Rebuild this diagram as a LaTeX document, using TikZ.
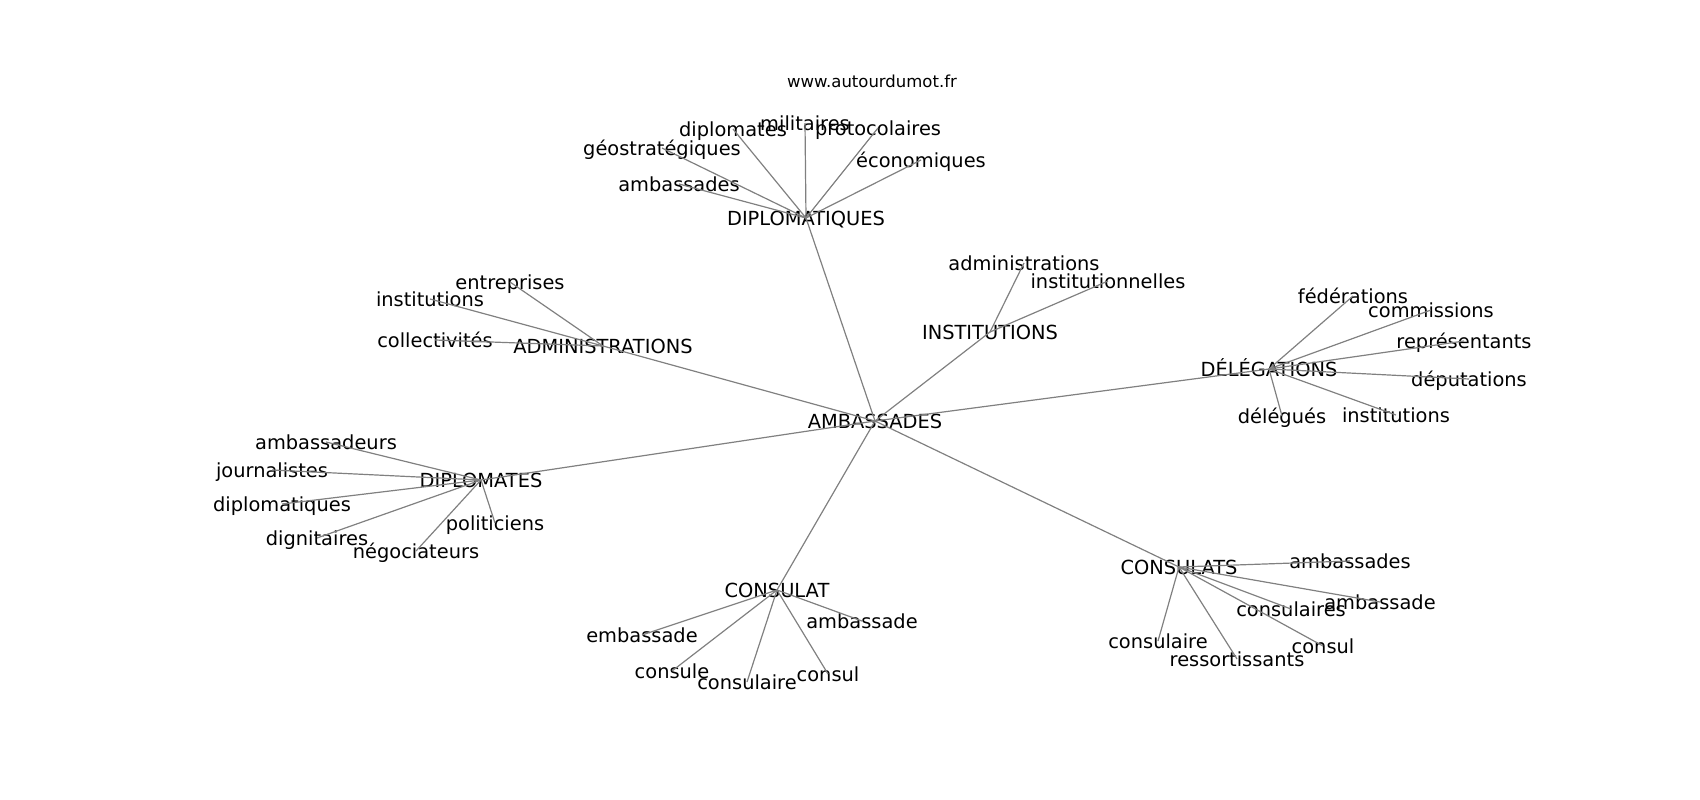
\documentclass[tikz,border=0pt]{standalone}
\usepackage{fontspec}
\setmainfont{DejaVu Sans}

\begin{document}
\begin{tikzpicture}[x=1pt,y=-1pt,
  word/.style={inner sep=0pt,font=\fontsize{19.4}{23}\selectfont,text height=14pt,text depth=0pt},
  link/.style={draw=gray,line width=1.2pt}]
\useasboundingbox (0,0) rectangle (1700,800);
\node[inner sep=0pt,font=\fontsize{16.5}{20}\selectfont,text height=12pt,text depth=0pt] (site) at (872,82) {www.autourdumot.fr};
% hubs
\foreach \n/\x/\y/\t in {amb/875/421/AMBASSADES, dq/806/218/DIPLOMATIQUES, ins/990/332/INSTITUTIONS,
  adm/603/346/ADMINISTRATIONS, del/1269/369/DÉLÉGATIONS, dpl/481/480/DIPLOMATES,
  csl/777/590/CONSULAT, css/1179/567/CONSULATS}
\node[word] (\n) at (\x,\y) {\t};
% leaves
\foreach \n/\x/\y/\t in {dq1/805/123/militaires, dq2/733/129/diplomates, dq3/878/128/protocolaires,
  dq4/662/148/géostratégiques, dq5/921/160/économiques, dq6/679/184/ambassades,
  ins1/1024/263/administrations, ins2/1108/281/institutionnelles,
  del1/1353/296/fédérations, del2/1431/310/commissions, del3/1464/341/représentants,
  del4/1469/379/députations, del5/1282/416/délégués, del6/1396/415/institutions,
  css1/1350/561/ambassades, css2/1380/602/ambassade, css3/1291/609/consulaires,
  css4/1158/641/consulaire, css5/1237/659/ressortissants, css6/1323/646/consul,
  adm1/510/282/entreprises, adm2/430/299/institutions, adm3/435/340/collectivités,
  dpl1/326/442/ambassadeurs, dpl2/272/470/journalistes, dpl3/282/504/diplomatiques,
  dpl4/495/523/politiciens, dpl5/317/538/dignitaires, dpl6/416/551/négociateurs,
  csl1/862/621/ambassade, csl2/642/635/embassade, csl3/672/671/consule,
  csl4/747/682/consulaire, csl5/828/674/consul}
\node[word] (\n) at (\x,\y) {\t};
% edges
\foreach \h/\k in {dq/6, ins/2, del/6, css/6, adm/3, dpl/6, csl/5}
{
\draw[link] (amb.center) -- (\h.center);
\foreach \i in {1,...,\k}
\draw[link] (\h.center) -- (\h\i.center);
}
\end{tikzpicture}
\end{document}
